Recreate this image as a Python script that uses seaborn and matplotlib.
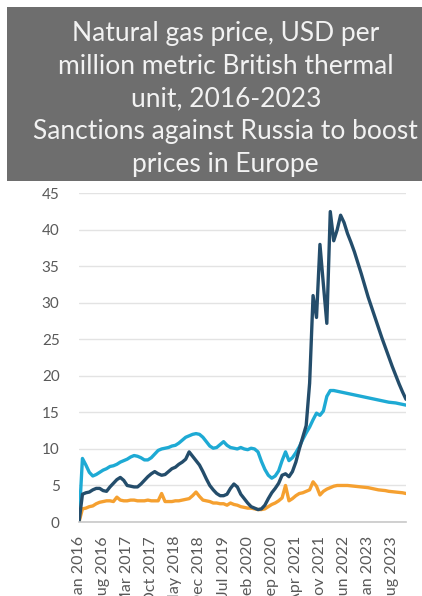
import matplotlib
matplotlib.use("Agg")
import matplotlib.pyplot as plt
import seaborn as sns
import pandas as pd
import numpy as np

# Monthly prices, Jan 2016 - Dec 2023 (USD per mmBtu)
europe = [
    0.0, 3.8, 4.0, 4.1, 4.4, 4.6, 4.6, 4.3, 4.2, 4.8,
    5.3, 5.8, 6.1, 5.7, 5.0, 4.9, 4.8, 4.8, 5.2, 5.7,
    6.2, 6.6, 6.9, 6.6, 6.4, 6.5, 6.9, 7.3, 7.5, 7.9,
    8.2, 8.6, 9.6, 9.0, 8.4, 7.8, 6.9, 5.9, 5.0, 4.4,
    3.9, 3.6, 3.6, 3.8, 4.6, 5.2, 4.8, 3.8, 3.2, 2.6,
    2.1, 1.9, 1.7, 1.8, 2.3, 3.2, 4.0, 4.6, 5.3, 6.4,
    6.6, 6.2, 6.9, 8.2, 10.0, 11.6, 13.2, 19.0, 31.0, 28.0,
    38.0, 32.5, 27.2, 42.5, 38.5, 40.0, 42.0, 41.0, 39.5, 38.3,
    37.0, 35.5, 34.0, 32.4, 30.8, 29.4, 28.0, 26.6, 25.2, 23.9,
    22.6, 21.3, 20.1, 18.9, 17.8, 16.8,
]
japan_lng = [
    0.0, 8.7, 7.8, 6.8, 6.3, 6.5, 6.8, 7.1, 7.3, 7.6,
    7.7, 7.9, 8.2, 8.4, 8.6, 8.9, 9.1, 9.0, 8.8, 8.5,
    8.5, 8.8, 9.3, 9.8, 10.0, 10.1, 10.2, 10.4, 10.5, 10.8,
    11.2, 11.6, 11.8, 12.0, 12.1, 12.0, 11.6, 11.0, 10.4, 10.1,
    10.2, 10.6, 11.0, 10.5, 10.2, 10.1, 10.0, 10.2, 10.0, 9.9,
    10.1, 10.0, 9.6, 8.3, 7.2, 6.4, 6.0, 6.3, 7.0, 8.4,
    9.6, 8.4, 8.8, 9.5, 10.3, 11.3, 12.2, 13.0, 14.0, 14.9,
    14.6, 15.2, 17.2, 18.0, 18.0, 17.9, 17.8, 17.7, 17.6, 17.5,
    17.4, 17.3, 17.2, 17.1, 17.0, 16.9, 16.8, 16.7, 16.6, 16.5,
    16.4, 16.35, 16.3, 16.2, 16.1, 16.0,
]
us_henry_hub = [
    0.0, 1.8, 1.9, 2.1, 2.2, 2.5, 2.7, 2.8, 2.9, 2.9,
    2.8, 3.4, 3.0, 2.9, 2.9, 3.0, 3.0, 2.9, 2.9, 2.9,
    3.0, 2.9, 2.9, 2.9, 3.9, 2.8, 2.8, 2.8, 2.9, 2.9,
    3.0, 3.1, 3.2, 3.6, 4.1, 3.5, 3.0, 2.9, 2.8, 2.6,
    2.6, 2.5, 2.5, 2.3, 2.6, 2.4, 2.3, 2.1, 2.0, 1.9,
    1.9, 1.8, 1.7, 1.7, 1.8, 2.1, 2.4, 2.6, 2.9, 3.3,
    5.0, 2.9, 3.2, 3.6, 3.9, 4.0, 4.2, 4.4, 5.5, 4.9,
    3.7, 4.2, 4.5, 4.7, 4.9, 5.0, 5.0, 5.0, 5.0, 4.95,
    4.9, 4.85, 4.8, 4.75, 4.7, 4.6, 4.5, 4.4, 4.35, 4.3,
    4.2, 4.15, 4.1, 4.05, 4.0, 3.9,
]

months = pd.date_range("2016-01-01", periods=len(europe), freq="MS")
month_labels = [d.strftime("%b %Y") for d in months]
tick_step = 7

df = pd.DataFrame({
    "idx": np.arange(len(europe)),
    "Japan LNG": japan_lng,
    "US": us_henry_hub,
    "Europe": europe,
})
long = df.melt(id_vars="idx", var_name="series", value_name="price")

palette = {"Japan LNG": "#1eaad4", "US": "#f5a030", "Europe": "#244d6b"}

sns.set_style("white")
plt.rcParams["font.family"] = ["Lato", "DejaVu Sans"]

fig = plt.figure(figsize=(4.22, 5.96), dpi=100)

# Title banner
fig.patches.append(plt.Rectangle((7 / 422, 1 - 181 / 596), 1 - 7 / 422, (181 - 7) / 596,
                                 transform=fig.transFigure, facecolor="#6e6e6e",
                                 edgecolor="none", zorder=0))
fig.text(0.535, 1 - 99 / 596,
         "Natural gas price, USD per\nmillion metric British thermal\nunit, 2016-2023\n"
         "Sanctions against Russia to boost\nprices in Europe",
         ha="center", va="center", color="#f2f2f2", fontsize=19, linespacing=1.38)

ax = fig.add_axes([79 / 422, 1 - 522 / 596, (406 - 79) / 422, (522 - 193.3) / 596])
sns.lineplot(data=long, x="idx", y="price", hue="series", palette=palette,
             linewidth=2.4, legend=False, ax=ax)

ax.set_xlim(0, len(europe) - 1)
ax.set_ylim(0, 45)
ax.set_yticks(range(0, 46, 5))
ax.yaxis.grid(True, color="#e3e3e3", linewidth=1.0)
ax.set_axisbelow(True)
ticks = list(range(0, len(europe), tick_step))
ax.set_xticks(ticks)
ax.set_xticklabels([month_labels[i] for i in ticks], rotation=90)
ax.tick_params(axis="y", length=0, labelsize=11, colors="#595959", pad=14)
ax.tick_params(axis="x", length=0, labelsize=11.5, colors="#595959", pad=10)
ax.set_xlabel("")
ax.set_ylabel("")
for side in ["top", "right", "left"]:
    ax.spines[side].set_visible(False)
ax.spines["bottom"].set_color("#c8c8c8")
ax.spines["bottom"].set_linewidth(1.2)

fig.savefig("out.png", dpi=100)
